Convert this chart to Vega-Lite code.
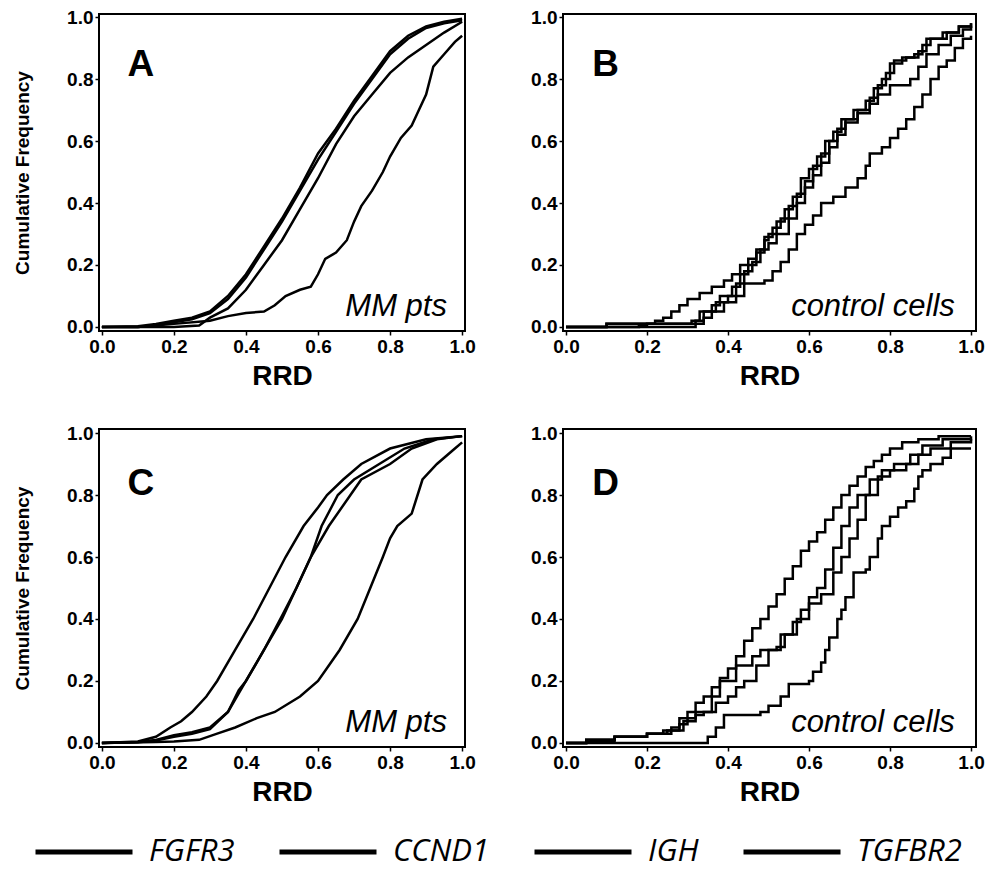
{
"$schema":"https://vega.github.io/schema/vega-lite/v6.json",
"background":"white",
"padding":{"left":12,"top":7,"right":2,"bottom":5},
"datasets":{
"A":[
{"gene":"FGFR3","rrd":0,"cf":0},{"gene":"FGFR3","rrd":0.1,"cf":0.002},{"gene":"FGFR3","rrd":0.15,"cf":0.01},{"gene":"FGFR3","rrd":0.2,"cf":0.02},{"gene":"FGFR3","rrd":0.25,"cf":0.03},{"gene":"FGFR3","rrd":0.3,"cf":0.05},{"gene":"FGFR3","rrd":0.35,"cf":0.1},{"gene":"FGFR3","rrd":0.4,"cf":0.17},{"gene":"FGFR3","rrd":0.45,"cf":0.26},{"gene":"FGFR3","rrd":0.5,"cf":0.35},{"gene":"FGFR3","rrd":0.55,"cf":0.45},{"gene":"FGFR3","rrd":0.6,"cf":0.56},{"gene":"FGFR3","rrd":0.65,"cf":0.64},{"gene":"FGFR3","rrd":0.7,"cf":0.73},{"gene":"FGFR3","rrd":0.75,"cf":0.81},{"gene":"FGFR3","rrd":0.8,"cf":0.89},{"gene":"FGFR3","rrd":0.85,"cf":0.94},{"gene":"FGFR3","rrd":0.9,"cf":0.97},{"gene":"FGFR3","rrd":0.95,"cf":0.985},{"gene":"FGFR3","rrd":1.0,"cf":0.995},
{"gene":"CCND1","rrd":0,"cf":0},{"gene":"CCND1","rrd":0.1,"cf":0},{"gene":"CCND1","rrd":0.15,"cf":0.005},{"gene":"CCND1","rrd":0.2,"cf":0.015},{"gene":"CCND1","rrd":0.25,"cf":0.025},{"gene":"CCND1","rrd":0.3,"cf":0.045},{"gene":"CCND1","rrd":0.35,"cf":0.09},{"gene":"CCND1","rrd":0.4,"cf":0.16},{"gene":"CCND1","rrd":0.45,"cf":0.25},{"gene":"CCND1","rrd":0.5,"cf":0.34},{"gene":"CCND1","rrd":0.55,"cf":0.44},{"gene":"CCND1","rrd":0.6,"cf":0.54},{"gene":"CCND1","rrd":0.65,"cf":0.63},{"gene":"CCND1","rrd":0.7,"cf":0.72},{"gene":"CCND1","rrd":0.75,"cf":0.8},{"gene":"CCND1","rrd":0.8,"cf":0.88},{"gene":"CCND1","rrd":0.85,"cf":0.93},{"gene":"CCND1","rrd":0.9,"cf":0.965},{"gene":"CCND1","rrd":0.95,"cf":0.98},{"gene":"CCND1","rrd":1.0,"cf":0.99},
{"gene":"IGH","rrd":0,"cf":0},{"gene":"IGH","rrd":0.2,"cf":0},{"gene":"IGH","rrd":0.27,"cf":0.005},{"gene":"IGH","rrd":0.3,"cf":0.03},{"gene":"IGH","rrd":0.35,"cf":0.06},{"gene":"IGH","rrd":0.4,"cf":0.12},{"gene":"IGH","rrd":0.45,"cf":0.2},{"gene":"IGH","rrd":0.5,"cf":0.28},{"gene":"IGH","rrd":0.55,"cf":0.38},{"gene":"IGH","rrd":0.6,"cf":0.48},{"gene":"IGH","rrd":0.65,"cf":0.59},{"gene":"IGH","rrd":0.7,"cf":0.68},{"gene":"IGH","rrd":0.75,"cf":0.75},{"gene":"IGH","rrd":0.8,"cf":0.82},{"gene":"IGH","rrd":0.85,"cf":0.87},{"gene":"IGH","rrd":0.9,"cf":0.91},{"gene":"IGH","rrd":0.95,"cf":0.95},{"gene":"IGH","rrd":1.0,"cf":0.985},
{"gene":"TGFBR2","rrd":0,"cf":0},{"gene":"TGFBR2","rrd":0.1,"cf":0},{"gene":"TGFBR2","rrd":0.2,"cf":0.01},{"gene":"TGFBR2","rrd":0.3,"cf":0.02},{"gene":"TGFBR2","rrd":0.35,"cf":0.035},{"gene":"TGFBR2","rrd":0.4,"cf":0.045},{"gene":"TGFBR2","rrd":0.45,"cf":0.05},{"gene":"TGFBR2","rrd":0.48,"cf":0.07},{"gene":"TGFBR2","rrd":0.51,"cf":0.1},{"gene":"TGFBR2","rrd":0.55,"cf":0.12},{"gene":"TGFBR2","rrd":0.58,"cf":0.13},{"gene":"TGFBR2","rrd":0.6,"cf":0.17},{"gene":"TGFBR2","rrd":0.62,"cf":0.22},{"gene":"TGFBR2","rrd":0.65,"cf":0.24},{"gene":"TGFBR2","rrd":0.68,"cf":0.28},{"gene":"TGFBR2","rrd":0.7,"cf":0.34},{"gene":"TGFBR2","rrd":0.72,"cf":0.39},{"gene":"TGFBR2","rrd":0.75,"cf":0.44},{"gene":"TGFBR2","rrd":0.78,"cf":0.5},{"gene":"TGFBR2","rrd":0.8,"cf":0.55},{"gene":"TGFBR2","rrd":0.83,"cf":0.61},{"gene":"TGFBR2","rrd":0.86,"cf":0.65},{"gene":"TGFBR2","rrd":0.88,"cf":0.7},{"gene":"TGFBR2","rrd":0.9,"cf":0.75},{"gene":"TGFBR2","rrd":0.92,"cf":0.84},{"gene":"TGFBR2","rrd":0.95,"cf":0.88},{"gene":"TGFBR2","rrd":0.98,"cf":0.92},{"gene":"TGFBR2","rrd":1.0,"cf":0.94}
],
"B":[
{"gene":"FGFR3","rrd":0,"cf":0},{"gene":"FGFR3","rrd":0.18,"cf":0.005},{"gene":"FGFR3","rrd":0.2,"cf":0.01},{"gene":"FGFR3","rrd":0.22,"cf":0.02},{"gene":"FGFR3","rrd":0.24,"cf":0.03},{"gene":"FGFR3","rrd":0.26,"cf":0.05},{"gene":"FGFR3","rrd":0.28,"cf":0.07},{"gene":"FGFR3","rrd":0.3,"cf":0.09},{"gene":"FGFR3","rrd":0.33,"cf":0.11},{"gene":"FGFR3","rrd":0.36,"cf":0.13},{"gene":"FGFR3","rrd":0.39,"cf":0.15},{"gene":"FGFR3","rrd":0.41,"cf":0.17},{"gene":"FGFR3","rrd":0.43,"cf":0.2},{"gene":"FGFR3","rrd":0.45,"cf":0.22},{"gene":"FGFR3","rrd":0.47,"cf":0.25},{"gene":"FGFR3","rrd":0.49,"cf":0.29},{"gene":"FGFR3","rrd":0.51,"cf":0.32},{"gene":"FGFR3","rrd":0.53,"cf":0.35},{"gene":"FGFR3","rrd":0.55,"cf":0.39},{"gene":"FGFR3","rrd":0.57,"cf":0.43},{"gene":"FGFR3","rrd":0.59,"cf":0.47},{"gene":"FGFR3","rrd":0.61,"cf":0.52},{"gene":"FGFR3","rrd":0.63,"cf":0.56},{"gene":"FGFR3","rrd":0.65,"cf":0.6},{"gene":"FGFR3","rrd":0.67,"cf":0.64},{"gene":"FGFR3","rrd":0.69,"cf":0.67},{"gene":"FGFR3","rrd":0.72,"cf":0.7},{"gene":"FGFR3","rrd":0.75,"cf":0.74},{"gene":"FGFR3","rrd":0.77,"cf":0.78},{"gene":"FGFR3","rrd":0.79,"cf":0.82},{"gene":"FGFR3","rrd":0.81,"cf":0.86},{"gene":"FGFR3","rrd":0.84,"cf":0.87},{"gene":"FGFR3","rrd":0.87,"cf":0.89},{"gene":"FGFR3","rrd":0.89,"cf":0.93},{"gene":"FGFR3","rrd":0.93,"cf":0.95},{"gene":"FGFR3","rrd":0.97,"cf":0.97},{"gene":"FGFR3","rrd":1.0,"cf":0.98},
{"gene":"CCND1","rrd":0,"cf":0},{"gene":"CCND1","rrd":0.1,"cf":0.01},{"gene":"CCND1","rrd":0.31,"cf":0.02},{"gene":"CCND1","rrd":0.33,"cf":0.05},{"gene":"CCND1","rrd":0.36,"cf":0.07},{"gene":"CCND1","rrd":0.38,"cf":0.1},{"gene":"CCND1","rrd":0.41,"cf":0.13},{"gene":"CCND1","rrd":0.43,"cf":0.17},{"gene":"CCND1","rrd":0.45,"cf":0.2},{"gene":"CCND1","rrd":0.47,"cf":0.24},{"gene":"CCND1","rrd":0.49,"cf":0.28},{"gene":"CCND1","rrd":0.5,"cf":0.3},{"gene":"CCND1","rrd":0.52,"cf":0.34},{"gene":"CCND1","rrd":0.54,"cf":0.38},{"gene":"CCND1","rrd":0.56,"cf":0.42},{"gene":"CCND1","rrd":0.58,"cf":0.48},{"gene":"CCND1","rrd":0.6,"cf":0.51},{"gene":"CCND1","rrd":0.62,"cf":0.55},{"gene":"CCND1","rrd":0.64,"cf":0.6},{"gene":"CCND1","rrd":0.66,"cf":0.63},{"gene":"CCND1","rrd":0.68,"cf":0.67},{"gene":"CCND1","rrd":0.71,"cf":0.7},{"gene":"CCND1","rrd":0.74,"cf":0.73},{"gene":"CCND1","rrd":0.76,"cf":0.77},{"gene":"CCND1","rrd":0.78,"cf":0.8},{"gene":"CCND1","rrd":0.8,"cf":0.85},{"gene":"CCND1","rrd":0.83,"cf":0.87},{"gene":"CCND1","rrd":0.86,"cf":0.88},{"gene":"CCND1","rrd":0.88,"cf":0.91},{"gene":"CCND1","rrd":0.9,"cf":0.93},{"gene":"CCND1","rrd":0.94,"cf":0.95},{"gene":"CCND1","rrd":0.97,"cf":0.97},{"gene":"CCND1","rrd":1.0,"cf":0.98},
{"gene":"IGH","rrd":0,"cf":0},{"gene":"IGH","rrd":0.1,"cf":0.01},{"gene":"IGH","rrd":0.32,"cf":0.02},{"gene":"IGH","rrd":0.34,"cf":0.05},{"gene":"IGH","rrd":0.37,"cf":0.08},{"gene":"IGH","rrd":0.4,"cf":0.1},{"gene":"IGH","rrd":0.42,"cf":0.14},{"gene":"IGH","rrd":0.44,"cf":0.18},{"gene":"IGH","rrd":0.46,"cf":0.21},{"gene":"IGH","rrd":0.48,"cf":0.25},{"gene":"IGH","rrd":0.5,"cf":0.27},{"gene":"IGH","rrd":0.52,"cf":0.3},{"gene":"IGH","rrd":0.55,"cf":0.35},{"gene":"IGH","rrd":0.57,"cf":0.4},{"gene":"IGH","rrd":0.59,"cf":0.45},{"gene":"IGH","rrd":0.61,"cf":0.49},{"gene":"IGH","rrd":0.63,"cf":0.53},{"gene":"IGH","rrd":0.65,"cf":0.58},{"gene":"IGH","rrd":0.67,"cf":0.62},{"gene":"IGH","rrd":0.69,"cf":0.66},{"gene":"IGH","rrd":0.72,"cf":0.69},{"gene":"IGH","rrd":0.75,"cf":0.72},{"gene":"IGH","rrd":0.77,"cf":0.75},{"gene":"IGH","rrd":0.8,"cf":0.78},{"gene":"IGH","rrd":0.85,"cf":0.8},{"gene":"IGH","rrd":0.87,"cf":0.84},{"gene":"IGH","rrd":0.89,"cf":0.88},{"gene":"IGH","rrd":0.92,"cf":0.91},{"gene":"IGH","rrd":0.95,"cf":0.94},{"gene":"IGH","rrd":0.98,"cf":0.96},{"gene":"IGH","rrd":1.0,"cf":0.97},
{"gene":"TGFBR2","rrd":0,"cf":0},{"gene":"TGFBR2","rrd":0.32,"cf":0.01},{"gene":"TGFBR2","rrd":0.34,"cf":0.03},{"gene":"TGFBR2","rrd":0.36,"cf":0.05},{"gene":"TGFBR2","rrd":0.39,"cf":0.08},{"gene":"TGFBR2","rrd":0.42,"cf":0.1},{"gene":"TGFBR2","rrd":0.44,"cf":0.14},{"gene":"TGFBR2","rrd":0.49,"cf":0.15},{"gene":"TGFBR2","rrd":0.51,"cf":0.18},{"gene":"TGFBR2","rrd":0.53,"cf":0.21},{"gene":"TGFBR2","rrd":0.55,"cf":0.25},{"gene":"TGFBR2","rrd":0.57,"cf":0.3},{"gene":"TGFBR2","rrd":0.59,"cf":0.33},{"gene":"TGFBR2","rrd":0.61,"cf":0.36},{"gene":"TGFBR2","rrd":0.63,"cf":0.4},{"gene":"TGFBR2","rrd":0.66,"cf":0.42},{"gene":"TGFBR2","rrd":0.69,"cf":0.45},{"gene":"TGFBR2","rrd":0.72,"cf":0.48},{"gene":"TGFBR2","rrd":0.74,"cf":0.52},{"gene":"TGFBR2","rrd":0.75,"cf":0.56},{"gene":"TGFBR2","rrd":0.78,"cf":0.58},{"gene":"TGFBR2","rrd":0.8,"cf":0.61},{"gene":"TGFBR2","rrd":0.82,"cf":0.64},{"gene":"TGFBR2","rrd":0.84,"cf":0.67},{"gene":"TGFBR2","rrd":0.86,"cf":0.71},{"gene":"TGFBR2","rrd":0.88,"cf":0.75},{"gene":"TGFBR2","rrd":0.9,"cf":0.8},{"gene":"TGFBR2","rrd":0.92,"cf":0.84},{"gene":"TGFBR2","rrd":0.94,"cf":0.86},{"gene":"TGFBR2","rrd":0.96,"cf":0.9},{"gene":"TGFBR2","rrd":0.98,"cf":0.93},{"gene":"TGFBR2","rrd":1.0,"cf":0.94}
],
"C":[
{"gene":"FGFR3","rrd":0,"cf":0},{"gene":"FGFR3","rrd":0.1,"cf":0.005},{"gene":"FGFR3","rrd":0.15,"cf":0.02},{"gene":"FGFR3","rrd":0.19,"cf":0.05},{"gene":"FGFR3","rrd":0.22,"cf":0.07},{"gene":"FGFR3","rrd":0.25,"cf":0.1},{"gene":"FGFR3","rrd":0.29,"cf":0.15},{"gene":"FGFR3","rrd":0.32,"cf":0.2},{"gene":"FGFR3","rrd":0.37,"cf":0.3},{"gene":"FGFR3","rrd":0.42,"cf":0.4},{"gene":"FGFR3","rrd":0.465,"cf":0.5},{"gene":"FGFR3","rrd":0.51,"cf":0.6},{"gene":"FGFR3","rrd":0.56,"cf":0.7},{"gene":"FGFR3","rrd":0.6,"cf":0.76},{"gene":"FGFR3","rrd":0.625,"cf":0.8},{"gene":"FGFR3","rrd":0.67,"cf":0.85},{"gene":"FGFR3","rrd":0.72,"cf":0.9},{"gene":"FGFR3","rrd":0.8,"cf":0.95},{"gene":"FGFR3","rrd":0.9,"cf":0.98},{"gene":"FGFR3","rrd":1.0,"cf":0.99},
{"gene":"CCND1","rrd":0,"cf":0},{"gene":"CCND1","rrd":0.1,"cf":0.003},{"gene":"CCND1","rrd":0.15,"cf":0.01},{"gene":"CCND1","rrd":0.2,"cf":0.025},{"gene":"CCND1","rrd":0.25,"cf":0.035},{"gene":"CCND1","rrd":0.3,"cf":0.05},{"gene":"CCND1","rrd":0.35,"cf":0.1},{"gene":"CCND1","rrd":0.4,"cf":0.2},{"gene":"CCND1","rrd":0.45,"cf":0.3},{"gene":"CCND1","rrd":0.5,"cf":0.4},{"gene":"CCND1","rrd":0.54,"cf":0.5},{"gene":"CCND1","rrd":0.58,"cf":0.6},{"gene":"CCND1","rrd":0.61,"cf":0.7},{"gene":"CCND1","rrd":0.655,"cf":0.8},{"gene":"CCND1","rrd":0.7,"cf":0.85},{"gene":"CCND1","rrd":0.77,"cf":0.9},{"gene":"CCND1","rrd":0.84,"cf":0.95},{"gene":"CCND1","rrd":0.92,"cf":0.98},{"gene":"CCND1","rrd":1.0,"cf":0.99},
{"gene":"IGH","rrd":0,"cf":0},{"gene":"IGH","rrd":0.1,"cf":0.002},{"gene":"IGH","rrd":0.15,"cf":0.008},{"gene":"IGH","rrd":0.2,"cf":0.02},{"gene":"IGH","rrd":0.25,"cf":0.03},{"gene":"IGH","rrd":0.3,"cf":0.045},{"gene":"IGH","rrd":0.35,"cf":0.1},{"gene":"IGH","rrd":0.38,"cf":0.17},{"gene":"IGH","rrd":0.4,"cf":0.2},{"gene":"IGH","rrd":0.45,"cf":0.3},{"gene":"IGH","rrd":0.5,"cf":0.41},{"gene":"IGH","rrd":0.54,"cf":0.5},{"gene":"IGH","rrd":0.58,"cf":0.6},{"gene":"IGH","rrd":0.63,"cf":0.7},{"gene":"IGH","rrd":0.69,"cf":0.8},{"gene":"IGH","rrd":0.72,"cf":0.85},{"gene":"IGH","rrd":0.8,"cf":0.9},{"gene":"IGH","rrd":0.86,"cf":0.95},{"gene":"IGH","rrd":0.93,"cf":0.98},{"gene":"IGH","rrd":1.0,"cf":0.99},
{"gene":"TGFBR2","rrd":0,"cf":0},{"gene":"TGFBR2","rrd":0.15,"cf":0.003},{"gene":"TGFBR2","rrd":0.2,"cf":0.005},{"gene":"TGFBR2","rrd":0.27,"cf":0.01},{"gene":"TGFBR2","rrd":0.32,"cf":0.03},{"gene":"TGFBR2","rrd":0.37,"cf":0.05},{"gene":"TGFBR2","rrd":0.43,"cf":0.08},{"gene":"TGFBR2","rrd":0.48,"cf":0.1},{"gene":"TGFBR2","rrd":0.55,"cf":0.15},{"gene":"TGFBR2","rrd":0.6,"cf":0.2},{"gene":"TGFBR2","rrd":0.63,"cf":0.25},{"gene":"TGFBR2","rrd":0.66,"cf":0.3},{"gene":"TGFBR2","rrd":0.71,"cf":0.4},{"gene":"TGFBR2","rrd":0.745,"cf":0.5},{"gene":"TGFBR2","rrd":0.78,"cf":0.6},{"gene":"TGFBR2","rrd":0.8,"cf":0.66},{"gene":"TGFBR2","rrd":0.82,"cf":0.7},{"gene":"TGFBR2","rrd":0.86,"cf":0.74},{"gene":"TGFBR2","rrd":0.89,"cf":0.85},{"gene":"TGFBR2","rrd":0.93,"cf":0.9},{"gene":"TGFBR2","rrd":0.98,"cf":0.95},{"gene":"TGFBR2","rrd":1.0,"cf":0.97}
],
"D":[
{"gene":"FGFR3","rrd":0,"cf":0},{"gene":"FGFR3","rrd":0.05,"cf":0.01},{"gene":"FGFR3","rrd":0.12,"cf":0.02},{"gene":"FGFR3","rrd":0.2,"cf":0.03},{"gene":"FGFR3","rrd":0.24,"cf":0.04},{"gene":"FGFR3","rrd":0.26,"cf":0.05},{"gene":"FGFR3","rrd":0.28,"cf":0.08},{"gene":"FGFR3","rrd":0.3,"cf":0.1},{"gene":"FGFR3","rrd":0.32,"cf":0.13},{"gene":"FGFR3","rrd":0.34,"cf":0.15},{"gene":"FGFR3","rrd":0.36,"cf":0.18},{"gene":"FGFR3","rrd":0.38,"cf":0.21},{"gene":"FGFR3","rrd":0.4,"cf":0.24},{"gene":"FGFR3","rrd":0.42,"cf":0.28},{"gene":"FGFR3","rrd":0.44,"cf":0.33},{"gene":"FGFR3","rrd":0.46,"cf":0.37},{"gene":"FGFR3","rrd":0.48,"cf":0.4},{"gene":"FGFR3","rrd":0.5,"cf":0.44},{"gene":"FGFR3","rrd":0.52,"cf":0.48},{"gene":"FGFR3","rrd":0.54,"cf":0.53},{"gene":"FGFR3","rrd":0.56,"cf":0.57},{"gene":"FGFR3","rrd":0.58,"cf":0.62},{"gene":"FGFR3","rrd":0.6,"cf":0.65},{"gene":"FGFR3","rrd":0.62,"cf":0.68},{"gene":"FGFR3","rrd":0.64,"cf":0.72},{"gene":"FGFR3","rrd":0.66,"cf":0.76},{"gene":"FGFR3","rrd":0.68,"cf":0.8},{"gene":"FGFR3","rrd":0.7,"cf":0.83},{"gene":"FGFR3","rrd":0.72,"cf":0.86},{"gene":"FGFR3","rrd":0.74,"cf":0.89},{"gene":"FGFR3","rrd":0.76,"cf":0.91},{"gene":"FGFR3","rrd":0.78,"cf":0.93},{"gene":"FGFR3","rrd":0.8,"cf":0.95},{"gene":"FGFR3","rrd":0.83,"cf":0.97},{"gene":"FGFR3","rrd":0.87,"cf":0.98},{"gene":"FGFR3","rrd":0.92,"cf":0.99},{"gene":"FGFR3","rrd":1.0,"cf":0.99},
{"gene":"CCND1","rrd":0,"cf":0},{"gene":"CCND1","rrd":0.05,"cf":0.01},{"gene":"CCND1","rrd":0.12,"cf":0.02},{"gene":"CCND1","rrd":0.2,"cf":0.03},{"gene":"CCND1","rrd":0.25,"cf":0.04},{"gene":"CCND1","rrd":0.28,"cf":0.06},{"gene":"CCND1","rrd":0.3,"cf":0.08},{"gene":"CCND1","rrd":0.32,"cf":0.09},{"gene":"CCND1","rrd":0.34,"cf":0.1},{"gene":"CCND1","rrd":0.37,"cf":0.13},{"gene":"CCND1","rrd":0.4,"cf":0.15},{"gene":"CCND1","rrd":0.42,"cf":0.18},{"gene":"CCND1","rrd":0.44,"cf":0.2},{"gene":"CCND1","rrd":0.47,"cf":0.25},{"gene":"CCND1","rrd":0.5,"cf":0.3},{"gene":"CCND1","rrd":0.53,"cf":0.35},{"gene":"CCND1","rrd":0.56,"cf":0.39},{"gene":"CCND1","rrd":0.58,"cf":0.43},{"gene":"CCND1","rrd":0.6,"cf":0.47},{"gene":"CCND1","rrd":0.62,"cf":0.5},{"gene":"CCND1","rrd":0.64,"cf":0.56},{"gene":"CCND1","rrd":0.66,"cf":0.63},{"gene":"CCND1","rrd":0.68,"cf":0.7},{"gene":"CCND1","rrd":0.7,"cf":0.76},{"gene":"CCND1","rrd":0.72,"cf":0.8},{"gene":"CCND1","rrd":0.75,"cf":0.85},{"gene":"CCND1","rrd":0.78,"cf":0.88},{"gene":"CCND1","rrd":0.81,"cf":0.9},{"gene":"CCND1","rrd":0.85,"cf":0.93},{"gene":"CCND1","rrd":0.88,"cf":0.96},{"gene":"CCND1","rrd":0.93,"cf":0.98},{"gene":"CCND1","rrd":1.0,"cf":0.99},
{"gene":"IGH","rrd":0,"cf":0},{"gene":"IGH","rrd":0.05,"cf":0.005},{"gene":"IGH","rrd":0.12,"cf":0.02},{"gene":"IGH","rrd":0.2,"cf":0.03},{"gene":"IGH","rrd":0.26,"cf":0.04},{"gene":"IGH","rrd":0.29,"cf":0.07},{"gene":"IGH","rrd":0.32,"cf":0.1},{"gene":"IGH","rrd":0.36,"cf":0.15},{"gene":"IGH","rrd":0.38,"cf":0.2},{"gene":"IGH","rrd":0.42,"cf":0.25},{"gene":"IGH","rrd":0.46,"cf":0.28},{"gene":"IGH","rrd":0.48,"cf":0.3},{"gene":"IGH","rrd":0.52,"cf":0.31},{"gene":"IGH","rrd":0.54,"cf":0.35},{"gene":"IGH","rrd":0.57,"cf":0.4},{"gene":"IGH","rrd":0.6,"cf":0.45},{"gene":"IGH","rrd":0.63,"cf":0.48},{"gene":"IGH","rrd":0.66,"cf":0.55},{"gene":"IGH","rrd":0.68,"cf":0.6},{"gene":"IGH","rrd":0.7,"cf":0.66},{"gene":"IGH","rrd":0.72,"cf":0.72},{"gene":"IGH","rrd":0.74,"cf":0.8},{"gene":"IGH","rrd":0.77,"cf":0.86},{"gene":"IGH","rrd":0.8,"cf":0.88},{"gene":"IGH","rrd":0.84,"cf":0.9},{"gene":"IGH","rrd":0.87,"cf":0.93},{"gene":"IGH","rrd":0.9,"cf":0.95},{"gene":"IGH","rrd":0.95,"cf":0.97},{"gene":"IGH","rrd":1.0,"cf":0.98},
{"gene":"TGFBR2","rrd":0,"cf":0},{"gene":"TGFBR2","rrd":0.35,"cf":0.02},{"gene":"TGFBR2","rrd":0.37,"cf":0.05},{"gene":"TGFBR2","rrd":0.39,"cf":0.09},{"gene":"TGFBR2","rrd":0.48,"cf":0.1},{"gene":"TGFBR2","rrd":0.5,"cf":0.12},{"gene":"TGFBR2","rrd":0.53,"cf":0.15},{"gene":"TGFBR2","rrd":0.55,"cf":0.19},{"gene":"TGFBR2","rrd":0.6,"cf":0.2},{"gene":"TGFBR2","rrd":0.61,"cf":0.23},{"gene":"TGFBR2","rrd":0.63,"cf":0.26},{"gene":"TGFBR2","rrd":0.64,"cf":0.3},{"gene":"TGFBR2","rrd":0.65,"cf":0.34},{"gene":"TGFBR2","rrd":0.67,"cf":0.4},{"gene":"TGFBR2","rrd":0.68,"cf":0.43},{"gene":"TGFBR2","rrd":0.69,"cf":0.47},{"gene":"TGFBR2","rrd":0.71,"cf":0.55},{"gene":"TGFBR2","rrd":0.74,"cf":0.56},{"gene":"TGFBR2","rrd":0.75,"cf":0.6},{"gene":"TGFBR2","rrd":0.77,"cf":0.66},{"gene":"TGFBR2","rrd":0.78,"cf":0.7},{"gene":"TGFBR2","rrd":0.8,"cf":0.73},{"gene":"TGFBR2","rrd":0.82,"cf":0.76},{"gene":"TGFBR2","rrd":0.84,"cf":0.78},{"gene":"TGFBR2","rrd":0.86,"cf":0.82},{"gene":"TGFBR2","rrd":0.87,"cf":0.86},{"gene":"TGFBR2","rrd":0.88,"cf":0.88},{"gene":"TGFBR2","rrd":0.9,"cf":0.9},{"gene":"TGFBR2","rrd":0.93,"cf":0.92},{"gene":"TGFBR2","rrd":0.95,"cf":0.95},{"gene":"TGFBR2","rrd":1.0,"cf":0.95}
],
"notes":[
{"panel":"A","kind":"letter","rrd":0.108,"cf":0.81,"label":"A"},
{"panel":"A","kind":"note","rrd":0.958,"cf":0.035,"label":"MM pts"},
{"panel":"B","kind":"letter","rrd":0.098,"cf":0.81,"label":"B"},
{"panel":"B","kind":"note","rrd":0.96,"cf":0.035,"label":"control cells"},
{"panel":"C","kind":"letter","rrd":0.108,"cf":0.8,"label":"C"},
{"panel":"C","kind":"note","rrd":0.958,"cf":0.035,"label":"MM pts"},
{"panel":"D","kind":"letter","rrd":0.098,"cf":0.8,"label":"D"},
{"panel":"D","kind":"note","rrd":0.96,"cf":0.035,"label":"control cells"}
]
},
"config":{
"view":{"stroke":"#000","strokeWidth":2},
"axis":{"grid":false,"domain":false,"labelFont":"Liberation Sans","labelFontWeight":"bold","labelFontSize":19,"labelColor":"#000","tickColor":"#000","tickSize":4,"tickWidth":1.5,"labelPadding":2,"labelFlush":false,"titleFont":"Liberation Sans","titleFontWeight":"bold","titleColor":"#000"},
"axisX":{"titleFontSize":28,"titlePadding":6},
"axisY":{"titleFontSize":19,"titlePadding":34},
"legend":{"symbolType":"stroke","symbolSize":9409,"symbolStrokeWidth":5,"labelFont":"Open Sans","labelFontStyle":"italic","labelFontSize":31,"labelColor":"#000","labelOffset":14,"columnPadding":34,"labelLimit":300}
},
"spacing":32,
"vconcat":[
{"spacing":52,"hconcat":[
{"width":366,"height":317,
"encoding":{
"x":{"field":"rrd","type":"quantitative","scale":{"domain":[-0.008,1.008],"nice":false,"zero":false},"axis":{"title":"RRD","values":[0,0.2,0.4,0.6,0.8,1],"format":".1f"}},
"y":{"field":"cf","type":"quantitative","scale":{"domain":[-0.013,1.01],"nice":false,"zero":false},"axis":{"title":"Cumulative Frequency","values":[0,0.2,0.4,0.6,0.8,1],"format":".1f"}}},
"layer":[
{"data":{"name":"A"},"mark":{"type":"line","interpolate":"linear","strokeWidth":2.5},
"encoding":{"color":{"field":"gene","type":"nominal","scale":{"domain":["FGFR3","CCND1","IGH","TGFBR2"],"range":["#000","#000","#000","#000"]},"legend":{"title":null,"orient":"none","direction":"horizontal","columns":4,"legendX":-66,"legendY":787}}}},
{"data":{"name":"notes"},"transform":[{"filter":"datum.panel === 'A' && datum.kind === 'letter'"}],"mark":{"type":"text","font":"Liberation Sans","fontWeight":"bold","fontSize":37,"align":"center","baseline":"alphabetic","color":"#000"},"encoding":{"text":{"field":"label","type":"nominal"}}},
{"data":{"name":"notes"},"transform":[{"filter":"datum.panel === 'A' && datum.kind === 'note'"}],"mark":{"type":"text","font":"Liberation Sans","fontStyle":"italic","fontSize":31,"align":"right","baseline":"alphabetic","color":"#000"},"encoding":{"text":{"field":"label","type":"nominal"}}}
]},
{"width":413,"height":317,
"encoding":{
"x":{"field":"rrd","type":"quantitative","scale":{"domain":[-0.0074,1.0123],"nice":false,"zero":false},"axis":{"title":"RRD","values":[0,0.2,0.4,0.6,0.8,1],"format":".1f"}},
"y":{"field":"cf","type":"quantitative","scale":{"domain":[-0.013,1.01],"nice":false,"zero":false},"axis":{"title":null,"values":[0,0.2,0.4,0.6,0.8,1],"format":".1f"}}},
"layer":[
{"data":{"name":"B"},"mark":{"type":"line","interpolate":"step-after","strokeWidth":2.5},
"encoding":{"color":{"field":"gene","type":"nominal"}}},
{"data":{"name":"notes"},"transform":[{"filter":"datum.panel === 'B' && datum.kind === 'letter'"}],"mark":{"type":"text","font":"Liberation Sans","fontWeight":"bold","fontSize":37,"align":"center","baseline":"alphabetic","color":"#000"},"encoding":{"text":{"field":"label","type":"nominal"}}},
{"data":{"name":"notes"},"transform":[{"filter":"datum.panel === 'B' && datum.kind === 'note'"}],"mark":{"type":"text","font":"Liberation Sans","fontStyle":"italic","fontSize":31,"align":"right","baseline":"alphabetic","color":"#000"},"encoding":{"text":{"field":"label","type":"nominal"}}}
]}
]},
{"spacing":52,"hconcat":[
{"width":366,"height":318,
"encoding":{
"x":{"field":"rrd","type":"quantitative","scale":{"domain":[-0.008,1.008],"nice":false,"zero":false},"axis":{"title":"RRD","values":[0,0.2,0.4,0.6,0.8,1],"format":".1f"}},
"y":{"field":"cf","type":"quantitative","scale":{"domain":[-0.013,1.013],"nice":false,"zero":false},"axis":{"title":"Cumulative Frequency","values":[0,0.2,0.4,0.6,0.8,1],"format":".1f"}}},
"layer":[
{"data":{"name":"C"},"mark":{"type":"line","interpolate":"linear","strokeWidth":2.5},
"encoding":{"color":{"field":"gene","type":"nominal"}}},
{"data":{"name":"notes"},"transform":[{"filter":"datum.panel === 'C' && datum.kind === 'letter'"}],"mark":{"type":"text","font":"Liberation Sans","fontWeight":"bold","fontSize":37,"align":"center","baseline":"alphabetic","color":"#000"},"encoding":{"text":{"field":"label","type":"nominal"}}},
{"data":{"name":"notes"},"transform":[{"filter":"datum.panel === 'C' && datum.kind === 'note'"}],"mark":{"type":"text","font":"Liberation Sans","fontStyle":"italic","fontSize":31,"align":"right","baseline":"alphabetic","color":"#000"},"encoding":{"text":{"field":"label","type":"nominal"}}}
]},
{"width":413,"height":318,
"encoding":{
"x":{"field":"rrd","type":"quantitative","scale":{"domain":[-0.0074,1.0123],"nice":false,"zero":false},"axis":{"title":"RRD","values":[0,0.2,0.4,0.6,0.8,1],"format":".1f"}},
"y":{"field":"cf","type":"quantitative","scale":{"domain":[-0.013,1.013],"nice":false,"zero":false},"axis":{"title":null,"values":[0,0.2,0.4,0.6,0.8,1],"format":".1f"}}},
"layer":[
{"data":{"name":"D"},"mark":{"type":"line","interpolate":"step-after","strokeWidth":2.5},
"encoding":{"color":{"field":"gene","type":"nominal"}}},
{"data":{"name":"notes"},"transform":[{"filter":"datum.panel === 'D' && datum.kind === 'letter'"}],"mark":{"type":"text","font":"Liberation Sans","fontWeight":"bold","fontSize":37,"align":"center","baseline":"alphabetic","color":"#000"},"encoding":{"text":{"field":"label","type":"nominal"}}},
{"data":{"name":"notes"},"transform":[{"filter":"datum.panel === 'D' && datum.kind === 'note'"}],"mark":{"type":"text","font":"Liberation Sans","fontStyle":"italic","fontSize":31,"align":"right","baseline":"alphabetic","color":"#000"},"encoding":{"text":{"field":"label","type":"nominal"}}}
]}
]}
],
"resolve":{"scale":{"color":"shared"},"legend":{"color":"shared"}}
}
